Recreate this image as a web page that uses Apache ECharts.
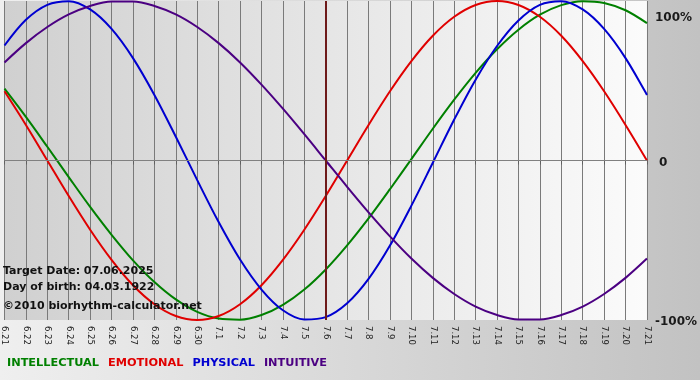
<!DOCTYPE html>
<html>
<head>
<meta charset="utf-8">
<script src="https://cdn.jsdelivr.net/npm/echarts@6/dist/echarts.min.js"></script>
<style>
html,body{margin:0;padding:0;}
#c{width:700px;height:380px;}
</style>
</head>
<body>
<div id="c"></div>
<script>
var days = ['6.21','6.22','6.23','6.24','6.25','6.26','6.27','6.28','6.29','6.30',
  '7.1','7.2','7.3','7.4','7.5','7.6','7.7','7.8','7.9','7.10',
  '7.11','7.12','7.13','7.14','7.15','7.16','7.17','7.18','7.19','7.20','7.21'];
var intellectual = [45,27.3,8.6,-10.4,-29.1,-46.6,-62.6,-76.2,-87.1,-94.9,-99.1,-99.8,-96.9,-90.5,-80.9,-68.3,-53.2,-36.3,-18,0.9,19.9,38.1,54.9,69.7,82,91.4,97.4,99.9,98.8,94.2,86.1];
var emotional = [43.4,22.3,0,-22.3,-43.4,-62.3,-78.2,-90.1,-97.5,-100,-97.5,-90.1,-78.2,-62.3,-43.4,-22.3,0,22.3,43.4,62.3,78.2,90.1,97.5,100,97.5,90.1,78.2,62.3,43.4,22.3,0];
var physical = [72.1,88.2,97.6,99.9,94.7,82.5,64.2,41.1,14.9,-12.3,-38.6,-62.1,-80.9,-93.9,-99.7,-98.2,-89.5,-74.2,-53.3,-28.3,-1.4,25.7,50.7,71.8,87.8,97.6,99.9,94.7,82.5,64.2,41.1];
var intuitive = [61.5,73.6,83.7,91.6,96.9,99.7,99.7,96.9,91.6,83.7,73.6,61.5,47.6,32.5,16.5,0,-16.5,-32.5,-47.6,-61.5,-73.6,-83.7,-91.6,-96.9,-99.7,-99.7,-96.9,-91.6,-83.7,-73.6,-61.5];
var yTicks = {'100':'100%','0':'0','-100':'-100%'};
var targetDay = '7.6';
var infoLines = ['Target Date: 07.06.2025','Day of birth: 04.03.1922','\u00a92010 biorhythm-calculator.net'];
var legendNames = ['INTELLECTUAL','EMOTIONAL','PHYSICAL','INTUITIVE'];
var colors = ['#008000','#e00000','#0000d0','#4b0082'];

var chart = echarts.init(document.getElementById('c'));
var seriesData = [intellectual, emotional, physical, intuitive];
var series = legendNames.map(function(n, k){
  return {
    name: n, type: 'line', data: seriesData[k], smooth: 0.33, symbol: 'none',
    lineStyle: {color: colors[k], width: 2}, itemStyle: {color: colors[k]},
    animation: false, z: 3
  };
});
series[0].markLine = {
  silent: true, symbol: ['none','none'], label: {show: false}, animation: false,
  data: [
    {yAxis: 0, lineStyle: {color: '#808080', width: 1, type: 'solid'}},
    {xAxis: targetDay, lineStyle: {color: '#6e1a1a', width: 2, type: 'solid'}}
  ]
};

chart.setOption({
  animation: false,
  backgroundColor: {type:'linear', x:0, y:0, x2:1, y2:0, colorStops:[{offset:0,color:'#efefef'},{offset:1,color:'#c2c2c2'}]},
  grid: {left: 1, right: 48, top: 1, bottom: 60, show: true, borderWidth: 0,
    backgroundColor: {type:'linear', x:0, y:0, x2:1, y2:0, colorStops:[{offset:0,color:'#d0d0d0'},{offset:1,color:'#fbfbfb'}]}},
  legend: {
    left: 7, bottom: 11, icon: 'none', itemWidth: 0, itemHeight: 0, itemGap: 9,
    selectedMode: false, padding: 0,
    textStyle: {fontFamily: 'DejaVu Sans', fontWeight: 'bold', fontSize: 11.3, padding: [0,0,0,-5]},
    data: legendNames.map(function(n, k){ return {name: n, textStyle: {color: colors[k]}}; })
  },
  xAxis: {
    type: 'category', data: days, boundaryGap: false,
    axisLine: {show: true, lineStyle: {color: '#808080'}},
    axisTick: {show: true, length: 4, lineStyle: {color: '#606060'}},
    splitLine: {show: true, lineStyle: {color: '#7a7a7a', width: 1}},
    axisLabel: {rotate: -90, fontFamily: 'DejaVu Sans', fontSize: 8.5, color: '#222', margin: 6, interval: 0}
  },
  yAxis: {
    type: 'value', min: -100, max: 100, interval: 100, position: 'right',
    axisLine: {show: false}, axisTick: {show: false}, splitLine: {show: false},
    axisLabel: {
      margin: 8, fontFamily: 'DejaVu Sans', fontWeight: 'bold', fontSize: 12, color: '#1a1a1a',
      formatter: function(v){ var t = yTicks[String(v)]; return v === 100 ? '{t|' + t + '}' : (v === 0 ? '{z|' + t + '}' : '{b|' + t + '}'); },
      rich: {
        t: {fontFamily: 'DejaVu Sans', fontWeight: 'bold', fontSize: 12, color: '#1a1a1a', padding: [34,0,0,0]},
        z: {fontFamily: 'DejaVu Sans', fontWeight: 'bold', fontSize: 12, color: '#1a1a1a', padding: [5,0,0,4]},
        b: {fontFamily: 'DejaVu Sans', fontWeight: 'bold', fontSize: 12, color: '#1a1a1a', padding: [4,0,0,0]}
      }
    }
  },
  graphic: infoLines.map(function(t, k){
    return {type: 'text', left: 3, top: [266, 282, 301][k], z: 10,
      style: {text: t, fill: '#111', font: 'bold 11px "DejaVu Sans"'}};
  }),
  series: series
});
</script>
</body>
</html>
